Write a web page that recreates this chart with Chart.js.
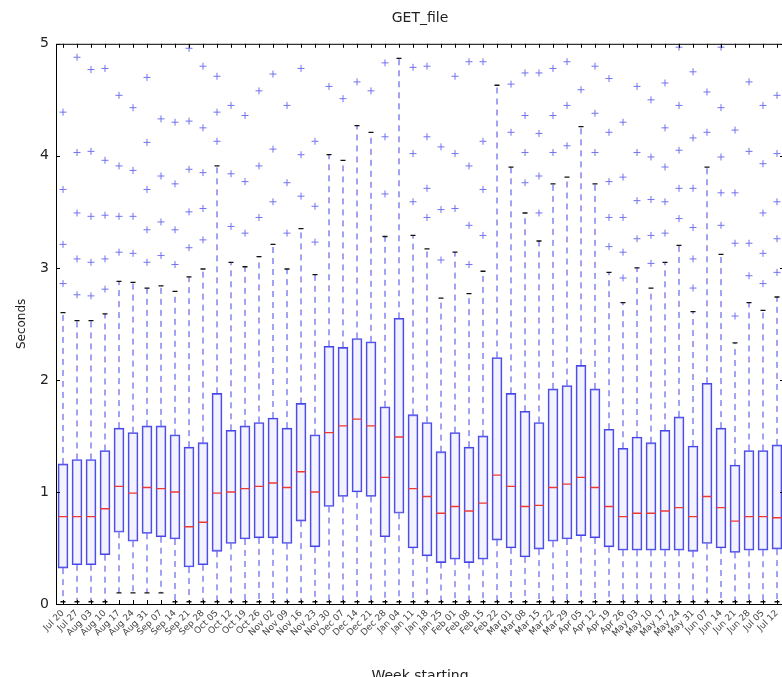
<!DOCTYPE html>
<html>
<head>
<meta charset="utf-8">
<script src="https://cdn.jsdelivr.net/npm/chart.js@4/dist/chart.umd.min.js"></script>
<style>
    html, body { margin: 0; padding: 0; background: #fff; overflow: hidden; }
    #wrap { width: 782px; height: 677px; overflow: hidden; }
</style>
</head>
<body>
<div id="wrap"><canvas id="boxChart" width="800" height="700"></canvas></div>
<script>
// weekly GET_file timings (seconds)
const weeks = ['Jul 20','Jul 27','Aug 03','Aug 10','Aug 17','Aug 24','Aug 31','Sep 07','Sep 14','Sep 21',
    'Sep 28','Oct 05','Oct 12','Oct 19','Oct 26','Nov 02','Nov 09','Nov 16','Nov 23','Nov 30',
    'Dec 07','Dec 14','Dec 21','Dec 28','Jan 04','Jan 11','Jan 18','Jan 25','Feb 01','Feb 08',
    'Feb 15','Feb 22','Mar 01','Mar 08','Mar 15','Mar 22','Mar 29','Apr 05','Apr 12','Apr 19',
    'Apr 26','May 03','May 10','May 17','May 24','May 31','Jun 07','Jun 14','Jun 21','Jun 28',
    'Jul 05','Jul 12'];

const q1 = [0.32,0.35,0.35,0.44,0.64,0.56,0.63,0.60,0.58,0.33,0.35,0.47,0.54,0.58,0.59,0.59,0.54,0.74,0.51,0.87,
    0.96,1.00,0.96,0.60,0.81,0.50,0.43,0.37,0.40,0.37,0.40,0.57,0.50,0.42,0.49,0.56,0.58,0.61,0.59,0.51,
    0.48,0.48,0.48,0.48,0.48,0.47,0.54,0.50,0.46,0.48,0.48,0.49];
const q3 = [1.25,1.29,1.29,1.37,1.57,1.53,1.59,1.59,1.51,1.40,1.44,1.88,1.55,1.59,1.62,1.66,1.57,1.79,1.51,2.30,
    2.29,2.37,2.34,1.76,2.55,1.69,1.62,1.36,1.53,1.40,1.50,2.20,1.88,1.72,1.62,1.92,1.95,2.13,1.92,1.56,
    1.39,1.49,1.44,1.55,1.67,1.41,1.97,1.57,1.24,1.37,1.37,1.42];
const medians = [0.78,0.78,0.78,0.85,1.05,0.99,1.04,1.03,1.00,0.69,0.73,0.99,1.00,1.03,1.05,1.08,1.04,1.18,1.00,1.53,
    1.59,1.65,1.59,1.13,1.49,1.03,0.96,0.81,0.87,0.83,0.90,1.15,1.05,0.87,0.88,1.04,1.07,1.13,1.04,0.87,
    0.78,0.81,0.81,0.83,0.86,0.78,0.96,0.86,0.74,0.78,0.78,0.77];
const whiskerLow = [0.02,0.02,0.02,0.02,0.10,0.10,0.10,0.10,0.02,0.02,0.02,0.02,0.02,0.02,0.02,0.02,0.02,0.02,0.02,0.02,
    0.02,0.02,0.02,0.02,0.02,0.02,0.02,0.02,0.02,0.02,0.02,0.02,0.02,0.02,0.02,0.02,0.02,0.02,0.02,0.02,
    0.02,0.02,0.02,0.02,0.02,0.02,0.02,0.02,0.02,0.02,0.02,0.02];
const whiskerHigh = [2.60,2.53,2.53,2.59,2.88,2.87,2.82,2.84,2.79,2.92,2.99,3.91,3.05,3.01,3.10,3.21,2.99,3.35,2.94,4.01,
    3.96,4.27,4.21,3.28,4.87,3.29,3.17,2.73,3.14,2.77,2.97,4.63,3.90,3.49,3.24,3.75,3.81,4.26,3.75,2.96,
    2.69,3.00,2.82,3.05,3.20,2.61,3.90,3.12,2.33,2.69,2.62,2.74];
const outliers = [
    [4.39,3.70,3.21,2.86], [4.88,4.03,3.49,3.08,2.76], [4.77,4.04,3.46,3.05,2.75], [4.78,3.96,3.47,3.08,2.81],
    [4.54,3.91,3.46,3.14], [4.43,3.87,3.46,3.13], [4.70,4.12,3.70,3.34,3.05], [4.33,3.82,3.41,3.11],
    [4.30,3.75,3.34,3.03], [4.96,4.31,3.88,3.50,3.18], [4.80,4.25,3.85,3.53,3.25], [4.71,4.39,4.13],
    [4.45,3.84,3.37], [4.36,3.77,3.31], [4.58,3.91,3.45], [4.73,4.06,3.59],
    [4.45,3.76,3.31], [4.78,4.01,3.64], [4.13,3.55,3.23], [4.62],
    [4.51], [4.66], [4.58], [4.83,4.17,3.66],
    [], [4.79,4.02,3.59], [4.80,4.17,3.71,3.45], [4.08,3.52,3.07],
    [4.71,4.02,3.53], [4.84,3.91,3.38,3.03], [4.84,4.13,3.70,3.29], [],
    [4.64,4.21], [4.74,4.36,4.03,3.76], [4.74,4.20,3.82,3.49], [4.78,4.36,4.03],
    [4.84,4.45,4.09], [4.59], [4.80,4.38,4.03], [4.69,4.21,3.77,3.45,3.19],
    [4.30,3.81,3.45,3.14,2.91], [4.62,4.03,3.60,3.26], [4.50,3.99,3.61,3.29,3.04], [4.65,4.25,3.90,3.59,3.31],
    [4.97,4.45,4.05,3.71,3.44], [4.75,4.16,3.71,3.36,3.08,2.82], [4.57,4.21], [4.97,4.43,3.99,3.67,3.38],
    [4.23,3.67,3.22,2.57], [4.66,4.04,3.22,2.93], [4.45,3.93,3.49,3.13,2.86], [4.54,4.02,3.59,3.26,2.96]
];
const yTicks = [0, 1, 2, 3, 4, 5];

const BLUE = '#4646e8';

// dashed whiskers: q3 -> top, q1 -> bottom, separated by gaps
const whiskerPoints = [];
weeks.forEach((w, i) => {
    whiskerPoints.push({ x: w, y: q3[i] }, { x: w, y: whiskerHigh[i] }, { x: w, y: null });
    whiskerPoints.push({ x: w, y: q1[i] }, { x: w, y: whiskerLow[i] }, { x: w, y: null });
});
const capPoints = [];
weeks.forEach((w, i) => {
    capPoints.push({ x: w, y: whiskerHigh[i] }, { x: w, y: whiskerLow[i] });
});
const medianPoints = weeks.map((w, i) => ({ x: w, y: medians[i] }));
const outlierPoints = [];
weeks.forEach((w, i) => outliers[i].forEach(v => outlierPoints.push({ x: w, y: v })));

// matplotlib style frame and inward ticks
const frameTicks = {
    id: 'frameTicks',
    afterDraw(chart) {
        const { ctx, chartArea: a, scales } = chart;
        ctx.save();
        ctx.strokeStyle = '#000';
        ctx.lineWidth = 1;
        ctx.strokeRect(a.left + 0.5, a.top + 0.5, a.right - a.left, a.bottom - a.top);
        ctx.beginPath();
        scales.x.ticks.forEach((t, i) => {
            const px = Math.round(scales.x.getPixelForTick(i)) + 0.5;
            ctx.moveTo(px, a.bottom); ctx.lineTo(px, a.bottom - 4);
            ctx.moveTo(px, a.top); ctx.lineTo(px, a.top + 4);
        });
        scales.y.ticks.forEach((t, i) => {
            const py = Math.round(scales.y.getPixelForTick(i)) + 0.5;
            ctx.moveTo(a.left, py); ctx.lineTo(a.left + 4, py);
            ctx.moveTo(a.right, py); ctx.lineTo(a.right - 4, py);
        });
        ctx.stroke();
        ctx.restore();
    }
};

new Chart(document.getElementById('boxChart'), {
    type: 'bar',
    data: {
        labels: weeks,
        datasets: [
            {
                type: 'line',
                data: whiskerPoints,
                borderColor: BLUE,
                borderWidth: 1,
                borderDash: [6, 5],
                pointRadius: 0,
                spanGaps: false,
                fill: false,
                order: 4
            },
            {
                type: 'bar',
                data: weeks.map((w, i) => [q1[i], q3[i]]),
                backgroundColor: 'rgba(225, 225, 255, 0.4)',
                borderColor: BLUE,
                borderWidth: 1.2,
                borderSkipped: false,
                barThickness: 10,
                order: 3
            },
            {
                type: 'line',
                data: capPoints,
                showLine: false,
                pointStyle: 'line',
                pointRadius: 2.5,
                pointBorderColor: '#111',
                pointBorderWidth: 1.3,
                order: 2
            },
            {
                type: 'line',
                data: medianPoints,
                showLine: false,
                pointStyle: 'line',
                pointRadius: 5,
                pointBorderColor: '#e83a3a',
                pointBorderWidth: 1.4,
                order: 1
            },
            {
                type: 'line',
                data: outlierPoints,
                showLine: false,
                pointStyle: 'cross',
                pointRadius: 3.5,
                pointBorderColor: '#7373f0',
                pointBorderWidth: 1,
                order: 0
            }
        ]
    },
    options: {
        responsive: false,
        animation: false,
        devicePixelRatio: 1,
        layout: { padding: { left: 0, right: 16, top: 0, bottom: 0 } },
        plugins: {
            legend: { display: false },
            tooltip: { enabled: false },
            title: {
                display: true,
                text: 'GET_file',
                fullSize: false,
                color: '#222',
                font: { family: 'DejaVu Sans', size: 14, weight: 'normal' },
                padding: { top: 10, bottom: 17 }
            }
        },
        scales: {
            x: {
                offset: true,
                grid: { display: false, drawTicks: false },
                border: { display: false },
                ticks: {
                    autoSkip: false,
                    minRotation: 45,
                    maxRotation: 45,
                    padding: 4,
                    color: '#444',
                    font: { family: 'DejaVu Sans', size: 9 }
                },
                title: {
                    display: true,
                    text: 'Week starting',
                    color: '#222',
                    font: { family: 'DejaVu Sans', size: 14 },
                    padding: { top: 0, bottom: 15 }
                },
                afterFit: scale => { scale.height = 96; }
            },
            y: {
                min: 0,
                max: 5,
                afterBuildTicks: scale => { scale.ticks = yTicks.map(v => ({ value: v })); },
                grid: { display: false, drawTicks: false },
                border: { display: false },
                ticks: {
                    padding: 7,
                    color: '#222',
                    font: { family: 'DejaVu Sans', size: 14 }
                },
                title: {
                    display: true,
                    text: 'Seconds',
                    color: '#222',
                    font: { family: 'DejaVu Sans', size: 12 },
                    padding: { top: 15, bottom: 0 }
                },
                afterFit: scale => { scale.width = 56; }
            }
        }
    },
    plugins: [frameTicks]
});
</script>
</body>
</html>
